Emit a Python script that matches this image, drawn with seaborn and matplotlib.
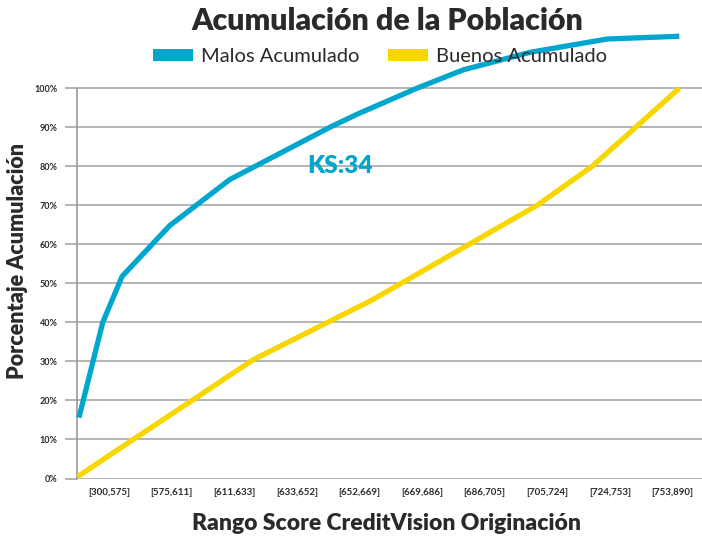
import numpy as np
import pandas as pd
import matplotlib
matplotlib.use("Agg")
import matplotlib.pyplot as plt
from matplotlib.patches import Patch
import seaborn as sns

# ── DATA ─────────────────────────────────────────────────────────────────────
rangos = ["[300,575]", "[575,611]", "[611,633]", "[633,652]", "[652,669]",
          "[669,686]", "[686,705]", "[705,724]", "[724,753]", "[753,890]"]

# posiciones en unidades de categoria (0 = primer rango)
malos_x = [-0.48, -0.10, 0.21, 0.97, 1.93, 3.53, 3.96, 4.92, 5.66, 6.73, 7.96, 9.11]
malos_y = [15.6, 40.0, 51.8, 64.8, 76.6, 90.0, 93.3, 100.0, 104.7, 109.2, 112.6, 113.3]

buenos_x = [-0.50, 0.18, 1.45, 2.30, 4.20, 6.84, 7.72, 9.11]
buenos_y = [0.5, 7.8, 21.3, 30.4, 45.7, 70.0, 80.0, 100.0]

y_ticks = [0, 10, 20, 30, 40, 50, 60, 70, 80, 90, 100]
ks_label = "KS:34"

# ── STYLE ────────────────────────────────────────────────────────────────────
BLUE   = "#00A6CE"
YELLOW = "#F8D600"
GRID   = "#b4b4b4"
DARK   = "#2a2a2a"

sns.set_style("white")
plt.rcParams["font.family"] = ["Lato", "DejaVu Sans"]

df = pd.concat([
    pd.DataFrame({"x": malos_x, "y": np.array(malos_y) / 100, "serie": "Malos Acumulado"}),
    pd.DataFrame({"x": buenos_x, "y": np.array(buenos_y) / 100, "serie": "Buenos Acumulado"}),
])

fig = plt.figure(figsize=(7.02, 5.38), dpi=100)
ax = fig.add_axes([76.7 / 702, 1 - 479.3 / 538, 1 - 76.7 / 702, (479.3 - 20) / 538])

sns.lineplot(data=df, x="x", y="y", hue="serie", units="serie", estimator=None,
             sort=False, palette={"Malos Acumulado": BLUE, "Buenos Acumulado": YELLOW},
             linewidth=3.8, legend=False, ax=ax, zorder=3)
for ln in ax.get_lines():
    ln.set_clip_on(False)
    ln.set_solid_capstyle("butt")
    ln.set_solid_joinstyle("round")

top = (479.3 - 20) / (479.3 - 88.3)
ax.set_ylim(-0.002, top)
ax.set_xlim((76.7 - 109) / 62.6, (702 - 109) / 62.6)

ax.set_yticks(np.array(y_ticks) / 100)
ax.set_yticklabels([f"{v}%" for v in y_ticks], fontsize=6.5, fontweight="bold", color=DARK)
ax.set_xticks(range(len(rangos)))
ax.set_xticklabels(rangos, fontsize=7, fontweight="bold", color=DARK)

ax.yaxis.grid(True, color=GRID, linewidth=1.4)
ax.xaxis.grid(False)
ax.tick_params(axis="y", length=8.4, width=1.4, color=GRID, pad=5.5, left=True)
ax.tick_params(axis="x", length=0, pad=6)
for s in ["top", "right", "bottom"]:
    ax.spines[s].set_visible(False)
ax.spines["left"].set_color("#9a9a9a")
ax.spines["left"].set_linewidth(1.2)
ax.spines["left"].set_bounds(0, 1.0)
ax.set_xlabel("")
ax.set_ylabel("")

ax.text(3.69, 0.80, ks_label, color=BLUE, fontsize=17.5, fontweight="heavy",
        ha="center", va="center", zorder=4)

# títulos
fig.text(387 / 702, 1 - 21 / 538, "Acumulación de la Población",
         ha="center", va="center", fontsize=21.8, fontweight="heavy", color=DARK)
fig.text(387 / 702, 1 - 523 / 538, "Rango Score CreditVision Originación",
         ha="center", va="center", fontsize=16.5, fontweight="heavy", color=DARK)
fig.text(18 / 702, 1 - 261 / 538, "Porcentaje Acumulación",
         ha="center", va="center", rotation=90, fontsize=15.5, fontweight="heavy", color=DARK)

handles = [Patch(facecolor=BLUE, edgecolor="none", label="Malos Acumulado"),
           Patch(facecolor=YELLOW, edgecolor="none", label="Buenos Acumulado")]
leg = fig.legend(handles=handles, loc="center", bbox_to_anchor=(380 / 702, 1 - 56.5 / 538),
                 ncol=2, frameon=False, fontsize=14.5, handlelength=2.0, handleheight=0.55,
                 handletextpad=0.4, columnspacing=1.4, borderpad=0)
for t in leg.get_texts():
    t.set_color(DARK)

fig.savefig("out.png", dpi=100)
